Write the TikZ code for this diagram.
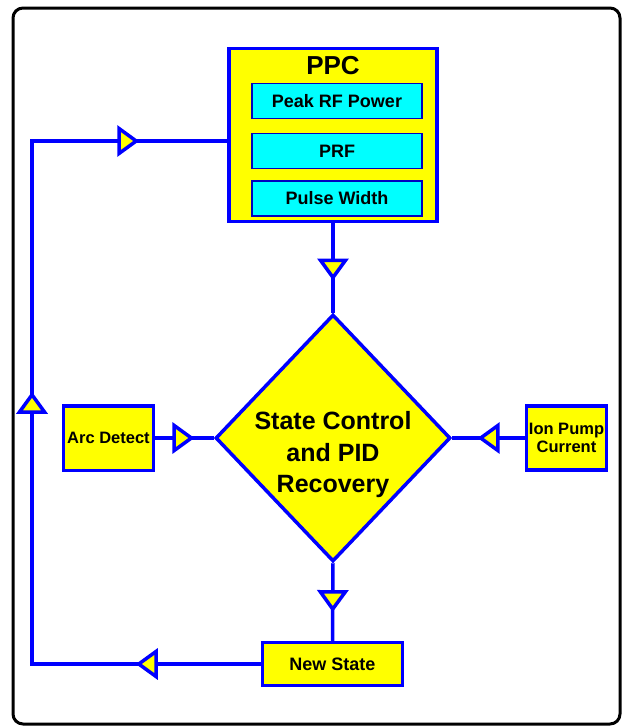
\documentclass[tikz,border=0pt]{standalone}
\usepackage{fontspec}
\setmainfont{Liberation Sans}
\usetikzlibrary{shapes.geometric,arrows.meta,decorations.markings}
\definecolor{boxyellow}{RGB}{255,255,0}
\definecolor{boxcyan}{RGB}{0,255,255}
\definecolor{lineblue}{RGB}{0,0,255}
\tikzset{tri/.tip={Triangle[width=31pt,length=22pt,fill=boxyellow,line width=3.5pt]}}
\begin{document}
\begin{tikzpicture}[x=1pt,y=-1pt,
  box/.style={shape=rectangle,draw=lineblue,fill=boxyellow,line width=3.5pt,inner sep=0pt,align=center,font=\fontsize{16.5}{18}\selectfont\bfseries},
  field/.style={shape=rectangle,draw=lineblue!75!black,fill=boxcyan,line width=1.2pt,minimum width=170pt,minimum height=35pt,inner sep=0pt,font=\fontsize{18}{20}\selectfont\bfseries},
  decision/.style={shape=diamond,draw=lineblue,fill=boxyellow,line width=3.5pt,minimum width=235pt,minimum height=247pt,inner sep=0pt},
  link/.style={lineblue,line width=3.5pt},
  flow/.style={postaction={decorate,decoration={markings,mark=at position #1 with {\arrow{tri}}}}}]
\useasboundingbox (0,0) rectangle (623,726);
\draw[line width=3pt,rounded corners=10pt] (13,8) rectangle (620,724);
\node(ppc) at (333,135)[box,minimum width=208pt,minimum height=173pt] {};
\node(ppctitle) at (333,65.5)[font=\fontsize{26}{28}\selectfont\bfseries] {PPC};
\node(peak) at (337,101)[field] {Peak RF Power};
\node(prf) at (337,151)[field] {PRF};
\node(pulse) at (337,198.5)[field] {Pulse Width};
\node(ctrl) at (333,438)[decision] {};
\node(ctrltext) at (333,455)[align=center,font=\fontsize{25}{31.5}\selectfont\bfseries] {State Control\\and PID\\Recovery};
\node(arc) at (108.5,438)[box,minimum width=90pt,minimum height=64.5pt] {Arc Detect};
\node(ion) at (566.5,438)[box,minimum width=80pt,minimum height=64pt] {Ion Pump\\Current};
\node(newstate) at (332.5,664)[box,minimum width=140pt,minimum height=43pt,font=\fontsize{18}{20}\selectfont\bfseries] {New State};
\coordinate(bl) at (32,664);
\coordinate(tl) at (32,141);
\draw[link,flow=0.64] (ppc.south) -- (ctrl.north);
\draw[link,flow=0.67] (arc) -- (ctrl);
\draw[link,flow=0.65] (ion) -- (ctrl);
\draw[link,flow=0.63] (ctrl.south) -- (newstate.north);
\draw[link,postaction={decorate,decoration={markings,
    mark=at position 125pt with {\arrow{tri}},
    mark=at position 501pt with {\arrow{tri}},
    mark=at position 859pt with {\arrow{tri}}}}]
  (newstate.west) -- (bl) -- (tl) -- (tl -| ppc.west);
\end{tikzpicture}
\end{document}
